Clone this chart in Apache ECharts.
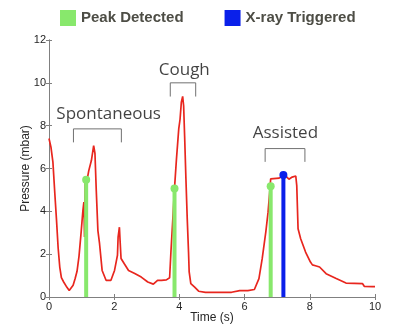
<!DOCTYPE html>
<html>
<head>
<meta charset="utf-8">
<script src="https://cdn.jsdelivr.net/npm/echarts@6/dist/echarts.min.js"></script>
<style>html,body{margin:0;padding:0;background:#fff}#c{width:403px;height:332px}</style>
</head>
<body>
<div id="c"></div>
<script>
// Pressure trace
const timeS = [0.0,0.06,0.12,0.18,0.23,0.28,0.33,0.38,0.45,0.5,0.55,0.62,0.68,0.74,0.8,0.86,0.92,0.99,1.04,1.07,1.09,1.11,1.14,1.16,1.22,1.3,1.37,1.41,1.45,1.5,1.55,1.63,1.75,1.9,2.01,2.08,2.1,2.12,2.16,2.18,2.21,2.31,2.44,2.63,2.83,3.03,3.2,3.33,3.45,3.6,3.7,3.74,3.81,3.85,3.91,3.98,4.02,4.06,4.1,4.13,4.16,4.2,4.24,4.28,4.3,4.35,4.46,4.59,4.8,5.2,5.6,5.85,6.1,6.3,6.44,6.54,6.65,6.72,6.77,6.8,6.85,7.06,7.22,7.36,7.46,7.57,7.6,7.64,7.72,7.87,8.02,8.08,8.2,8.3,8.5,8.81,9.11,9.62,9.67,9.92,10.0];
const pressure = [7.4,7.0,6.3,4.8,3.6,2.3,1.4,0.9,0.7,0.65,0.45,0.3,0.35,0.55,0.85,1.2,1.9,3.1,4.04,4.43,2.8,5.44,5.2,5.4,5.9,6.37,7.07,6.7,4.97,3.1,2.5,1.24,0.78,0.78,1.24,1.79,1.95,2.8,3.26,2.65,1.8,1.55,1.24,1.1,0.93,0.7,0.6,0.78,0.78,0.8,0.9,2.1,3.96,5.07,6.45,7.85,8.3,9.1,9.37,8.93,7.53,5.52,3.67,2.1,1.17,0.62,0.47,0.27,0.22,0.22,0.22,0.3,0.3,0.35,0.86,1.79,3.03,3.96,4.89,5.52,5.6,5.55,5.7,5.5,5.6,5.65,5.2,3.19,2.72,2.1,1.63,1.5,1.45,1.4,1.09,0.86,0.65,0.62,0.5,0.48,0.48];
// Markers
const peakTimes = [1.14, 3.85, 6.8];
const peakValues = [5.47, 5.07, 5.17];
const xrayTimes = [7.19];
const xrayValues = [5.7];
// Annotations
const annoLabels = ['Spontaneous', 'Cough', 'Assisted'];
const annoStart = [0.75, 3.72, 6.63];
const annoEnd = [2.22, 4.5, 7.85];
const annoTop = [7.85, 10.0, 6.93];
const annoLeg = [0.63, 0.64, 0.62];
const annoTextX = [1.83, 4.15, 7.25];
const annoTextY = [8.56, 10.6, 7.63];
// Ticks
const xTicks = [0, 2, 4, 6, 8, 10];
const yTicks = [0, 2, 4, 6, 8, 10, 12];

const RED = '#e8261e', GREEN = '#88e86c', BLUE = '#0a20ea', FRAME = '#808080';
const chart = echarts.init(document.getElementById('c'), null, {renderer: 'canvas'});

const series = [];
series.push({
  name: 'Pressure', type: 'line', data: timeS.map((t, i) => [t, pressure[i]]),
  showSymbol: false, symbol: 'none', lineStyle: {color: RED, width: 1.7}, itemStyle: {color: RED},
  z: 2, animation: false
});
annoLabels.forEach((lab, i) => {
  series.push({
    name: 'br' + i, type: 'line', symbol: 'none', animation: false, z: 1,
    data: [[annoStart[i], annoTop[i] - annoLeg[i]], [annoStart[i], annoTop[i]], [annoEnd[i], annoTop[i]], [annoEnd[i], annoTop[i] - annoLeg[i]]],
    lineStyle: {color: '#707070', width: 1}
  });
});
series.push({
  name: 'anno', type: 'scatter', symbolSize: 0, animation: false, silent: true,
  data: annoLabels.map((l, i) => ({name: l, value: [annoTextX[i], annoTextY[i]]})),
  label: {show: true, position: 'inside', formatter: p => p.name, fontFamily: 'Open Sans', fontSize: 17, color: '#111'}
});
series.push({
  name: 'Peak Detected', type: 'bar', barWidth: 4, barGap: '-100%', animation: false, z: 3,
  data: peakTimes.map((t, i) => [t, peakValues[i]]), itemStyle: {color: GREEN}
});
series.push({
  name: 'X-ray Triggered', type: 'bar', barWidth: 4, barGap: '-100%', animation: false, z: 3,
  data: xrayTimes.map((t, i) => [t, xrayValues[i]]), itemStyle: {color: BLUE}
});
series.push({
  name: 'peakDots', type: 'scatter', symbolSize: 8, animation: false, z: 4,
  data: peakTimes.map((t, i) => [t, peakValues[i]]), itemStyle: {color: GREEN, opacity: 1}
});
series.push({
  name: 'xrayDots', type: 'scatter', symbolSize: 8, animation: false, z: 4,
  data: xrayTimes.map((t, i) => [t, xrayValues[i]]), itemStyle: {color: BLUE, opacity: 1}
});

const tickLabel = {fontFamily: 'Liberation Sans', fontSize: 11, color: '#262626'};
chart.setOption({
  animation: false,
  backgroundColor: '#fff',
  legend: {
    data: ['Peak Detected', 'X-ray Triggered'], left: 55, top: 5, icon: 'rect',
    itemWidth: 16, itemHeight: 16, itemGap: 41,
    textStyle: {fontFamily: 'Liberation Sans', fontWeight: 'bold', fontSize: 15, color: '#4d4d45'}
  },
  grid: {left: 49, right: 28, top: 40, bottom: 35, containLabel: false},
  xAxis: [{
    type: 'value', min: xTicks[0], max: xTicks[xTicks.length - 1], interval: 2,
    name: 'Time (s)', nameLocation: 'middle', nameGap: 15, nameMoveOverlap: false,
    nameTextStyle: {fontFamily: 'Liberation Sans', fontSize: 12, color: '#262626'},
    axisLine: {show: true, lineStyle: {color: FRAME}},
    axisTick: {show: true, inside: true, length: 3, lineStyle: {color: FRAME}},
    axisLabel: Object.assign({margin: 4}, tickLabel),
    splitLine: {show: false}
  }, {
    type: 'value', position: 'top', min: xTicks[0], max: xTicks[xTicks.length - 1], interval: 2,
    axisLine: {show: true, lineStyle: {color: FRAME}},
    axisTick: {show: true, inside: true, length: 3, lineStyle: {color: FRAME}},
    axisLabel: {show: false}, splitLine: {show: false}
  }],
  yAxis: [{
    type: 'value', min: yTicks[0], max: yTicks[yTicks.length - 1], interval: 2,
    name: 'Pressure (mbar)', nameLocation: 'middle', nameGap: 17, nameMoveOverlap: false,
    nameTextStyle: {fontFamily: 'Liberation Sans', fontSize: 12, color: '#262626'},
    axisLine: {show: true, lineStyle: {color: FRAME}},
    axisTick: {show: true, inside: true, length: 3, lineStyle: {color: FRAME}},
    axisLabel: Object.assign({margin: 3}, tickLabel),
    splitLine: {show: false}
  }, {
    type: 'value', position: 'right', min: yTicks[0], max: yTicks[yTicks.length - 1], interval: 2,
    axisLine: {show: true, lineStyle: {color: FRAME}},
    axisTick: {show: true, inside: true, length: 3, lineStyle: {color: FRAME}},
    axisLabel: {show: false}, splitLine: {show: false}
  }],
  series: series
});
</script>
</body>
</html>
